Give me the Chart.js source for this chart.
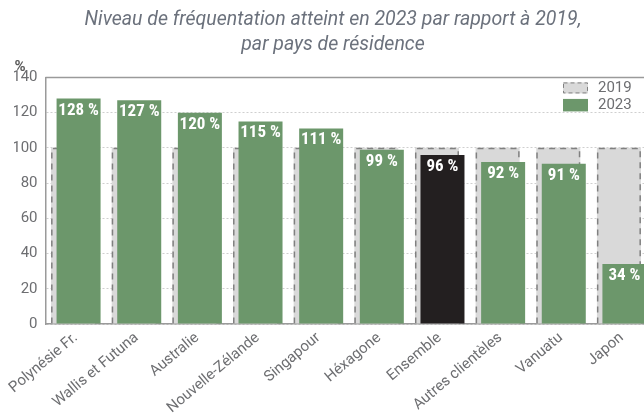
<!DOCTYPE html>
<html><head><meta charset="utf-8">
<script src="https://cdn.jsdelivr.net/npm/chart.js@4/dist/chart.umd.min.js"></script>
<style>
html,body{margin:0;padding:0;overflow:hidden;background:#fff;width:644px;height:414px}
#wrap{width:666px;height:414px}
canvas{display:block}
</style></head><body>
<div id="wrap"><canvas id="c" width="666" height="414"></canvas></div>
<script>
const categories = ['Polynésie Fr.','Wallis et Futuna','Australie','Nouvelle-Zélande','Singapour','Héxagone','Ensemble','Autres clientèles','Vanuatu','Japon'];
const values2019 = [100,100,100,100,100,100,100,100,100,100];
const values2023 = [128,127,120,115,111,99,96,92,91,34];
const yTicks = [0,20,40,60,80,100,120,140];
const seriesLabels = ['2019','2023'];
const titleLines = ['Niveau de fréquentation atteint en 2023 par rapport à 2019,','par pays de résidence'];
const unitLabel = '%';
const highlighted = 'Ensemble';

const GREEN = '#6c976b', BLACK = '#231f20', GRAY_FILL = '#d9d9d9', DASH = '#808080', TEXT = '#6d6e71', AXIS = '#9a9a9a', TITLE = '#6b717c';
const FONT = 'Roboto';
const NARROW = '"Liberation Sans Narrow", "Roboto Condensed", Roboto';

const dashedBorder = {
  id: 'dashedBorder',
  afterDatasetDraw(chart, args) {
    if (args.index !== 2) return;
    const ctx = chart.ctx;
    ctx.save();
    ctx.setLineDash([6, 5]);
    ctx.lineWidth = 1.5;
    ctx.strokeStyle = DASH;
    args.meta.data.forEach(bar => {
      const {x, y, base, width} = bar.getProps(['x', 'y', 'base', 'width'], true);
      const l = x - width / 2 + 0.75, r = x + width / 2 - 0.75, t = y + 0.75;
      ctx.beginPath();
      ctx.moveTo(l, base); ctx.lineTo(l, t); ctx.lineTo(r, t); ctx.lineTo(r, base);
      ctx.stroke();
    });
    ctx.restore();
  }
};

const extras = {
  id: 'extras',
  afterDatasetsDraw(chart) {
    const ctx = chart.ctx, ca = chart.chartArea;
    ctx.save();
    // top frame line
    ctx.strokeStyle = AXIS; ctx.lineWidth = 1.5;
    ctx.beginPath(); ctx.moveTo(ca.left, ca.top); ctx.lineTo(ca.right, ca.top); ctx.stroke();
    // value labels
    const meta = chart.getDatasetMeta(1);
    ctx.fillStyle = '#ffffff';
    ctx.font = 'bold 17px ' + NARROW;
    ctx.textAlign = 'center'; ctx.textBaseline = 'alphabetic';
    meta.data.forEach((bar, i) => {
      const {x, y} = bar.getProps(['x', 'y'], true);
      ctx.fillText(values2023[i] + ' %', x, y + 16);
    });
    // unit label
    ctx.fillStyle = '#5a5a5a';
    ctx.font = 'bold 15px ' + FONT;
    ctx.textAlign = 'center'; ctx.textBaseline = 'middle';
    ctx.fillText(unitLabel, 20, ca.top - 10);
    // legend
    const bx = ca.right - 89;
    ctx.fillStyle = GRAY_FILL;
    ctx.fillRect(bx, ca.top + 5, 25, 11);
    ctx.setLineDash([4, 3]); ctx.strokeStyle = DASH; ctx.lineWidth = 1;
    ctx.strokeRect(bx + 0.5, ca.top + 5.5, 24, 10);
    ctx.setLineDash([]);
    ctx.fillStyle = GREEN;
    ctx.fillRect(bx, ca.top + 21.5, 25, 12.5);
    ctx.fillStyle = TEXT;
    ctx.font = '15px ' + FONT;
    ctx.textAlign = 'left';
    ctx.fillText(seriesLabels[0], bx + 35, ca.top + 11);
    ctx.fillText(seriesLabels[1], bx + 35, ca.top + 28);
    ctx.restore();
  }
};

new Chart(document.getElementById('c'), {
  type: 'bar',
  data: {
    labels: categories,
    datasets: [
      {label: '', data: [], stack: 'a', backgroundColor: 'rgba(0,0,0,0)'},
      {label: seriesLabels[1], data: values2023, stack: 'b',
       backgroundColor: c => categories[c.dataIndex] === highlighted ? BLACK : GREEN, borderWidth: 0},
      {label: seriesLabels[0], data: values2019, stack: 'a', backgroundColor: GRAY_FILL, borderWidth: 0}
    ]
  },
  options: {
    responsive: false,
    animation: false,
    categoryPercentage: 0.1814,
    barPercentage: 8,
    layout: {padding: {left: 14, right: 14, top: 0, bottom: 0}},
    plugins: {
      legend: {display: false},
      tooltip: {enabled: false},
      title: {display: true, text: titleLines, color: TITLE,
        font: {family: FONT, size: 19.5, style: 'italic', weight: 'normal', lineHeight: 1.28},
        padding: {top: 8, bottom: 19.5}}
    },
    scales: {
      x: {
        grid: {display: false, drawTicks: false},
        border: {display: true, color: AXIS, width: 1.5},
        ticks: {color: TEXT, font: {family: FONT, size: 15}, minRotation: 40, maxRotation: 40, autoSkip: false, padding: 5},
        afterFit: s => { s.height = 90; }
      },
      y: {
        min: 0, max: 140, stacked: false,
        afterBuildTicks: s => { s.ticks = yTicks.map(v => ({value: v})); },
        grid: {color: c => (c.tick && c.tick.value === 140) ? 'rgba(0,0,0,0)' : '#cfcfcf', lineWidth: 1, drawTicks: false},
        border: {display: true, color: AXIS, width: 1.5, dash: [2, 2]},
        ticks: {color: TEXT, font: {family: FONT, size: 15}, padding: 8},
        afterFit: s => { s.width = 31.5; }
      }
    }
  },
  plugins: [dashedBorder, extras]
});
</script>
</body></html>
